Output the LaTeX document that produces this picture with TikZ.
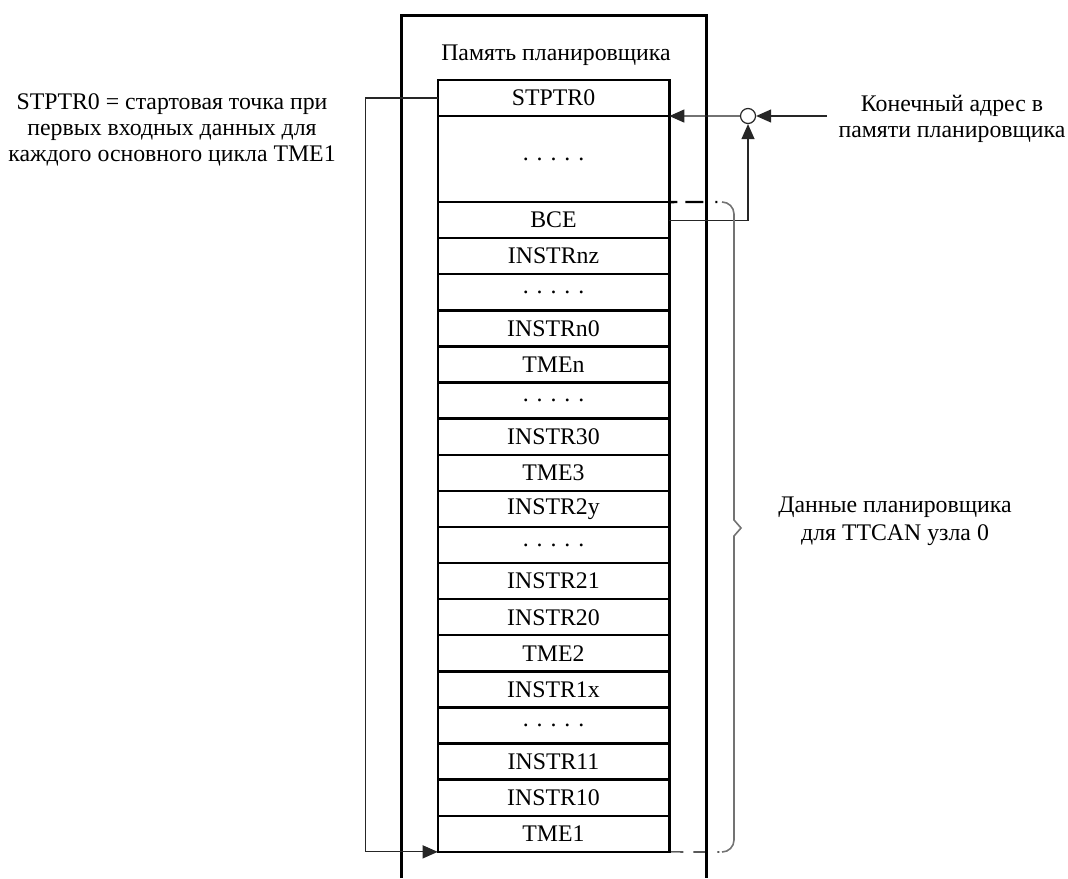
\documentclass[tikz,border=0pt]{standalone}
\usepackage{fontspec}
\setmainfont{Liberation Serif}
\usetikzlibrary{arrows.meta,positioning}
\tikzset{
  cell/.style={draw, line width=1.2pt, outer sep=0pt, inner sep=0pt,
    minimum width=115.8pt, minimum height=18.05pt,
    font=\fontsize{11.9}{13}\selectfont},
  note/.style={align=center, inner sep=0pt, font=\fontsize{11.9}{13}\selectfont},
  link/.style={line width=0.6pt, draw=black!85},
  arr/.style={link, -{Triangle[length=7.5pt,width=6.5pt]}},
  brc/.style={line width=0.8pt, draw=black!55}
}

\begin{document}
\begin{tikzpicture}[x=0.5pt, y=-0.5pt]
\useasboundingbox (0,0) rectangle (1068,878);
\draw[line width=1.5pt] (401,878) -- (401,15) -- (706,15) -- (706,878);
\node[note] (title) at (556,55) {Память планировщика};

\node[cell] (top) at (553.5,98) {STPTR0};
\node[cell, minimum height=43pt, below=0pt of top] (r0) {. . . . .};
\foreach \lbl [count=\i, evaluate=\i as \j using int(\i-1)] in
  {BCE, INSTRnz, . . . . ., INSTRn0, TMEn, . . . . ., INSTR30, TME3, INSTR2y,
   . . . . ., INSTR21, INSTR20, TME2, INSTR1x, . . . . ., INSTR11, INSTR10, TME1}
  \node[cell, below=0pt of r\j] (r\i) {\lbl};

\node[note] (stnote) at (172,130)
  {STPTR0 = стартовая точка при\\первых входных данных для\\каждого основного цикла TME1};
\draw[arr] (top.west) -- ++(-72,0) |- (r18.south west);

\node[note] (endnote) at (952,119) {Конечный адрес в\\памяти планировщика};
\node[circle, draw, link, fill=white, minimum size=7.5pt, inner sep=0pt] (junc) at (748,116) {};
\coordinate (src) at (827,116);
\draw[arr] (src) -- (junc);
\draw[arr] (junc) -- (top.south east);
\draw[arr] (r1.east) -| (junc.south);

\draw[line width=1.2pt, dash pattern=on 4pt off 4pt on 9pt off 6pt on 1pt off 3pt]
  (r0.south east) -- (722,202);
\draw[line width=0.6pt, dash pattern=on 7pt off 5pt on 7pt off 5pt on 1pt off 3pt]
  (r18.south east) -- (722,852);
\draw[brc] (722,202) to[out=0, in=90] (734,214) -- (734,520) -- (741,528) -- (734,536)
  -- (734,840) to[out=-90, in=0] (722,852);
\node[note, font=\fontsize{11.9}{14}\selectfont] (datanote) at (895,521)
  {Данные планировщика\\для TTCAN узла 0};
\end{tikzpicture}
\end{document}
